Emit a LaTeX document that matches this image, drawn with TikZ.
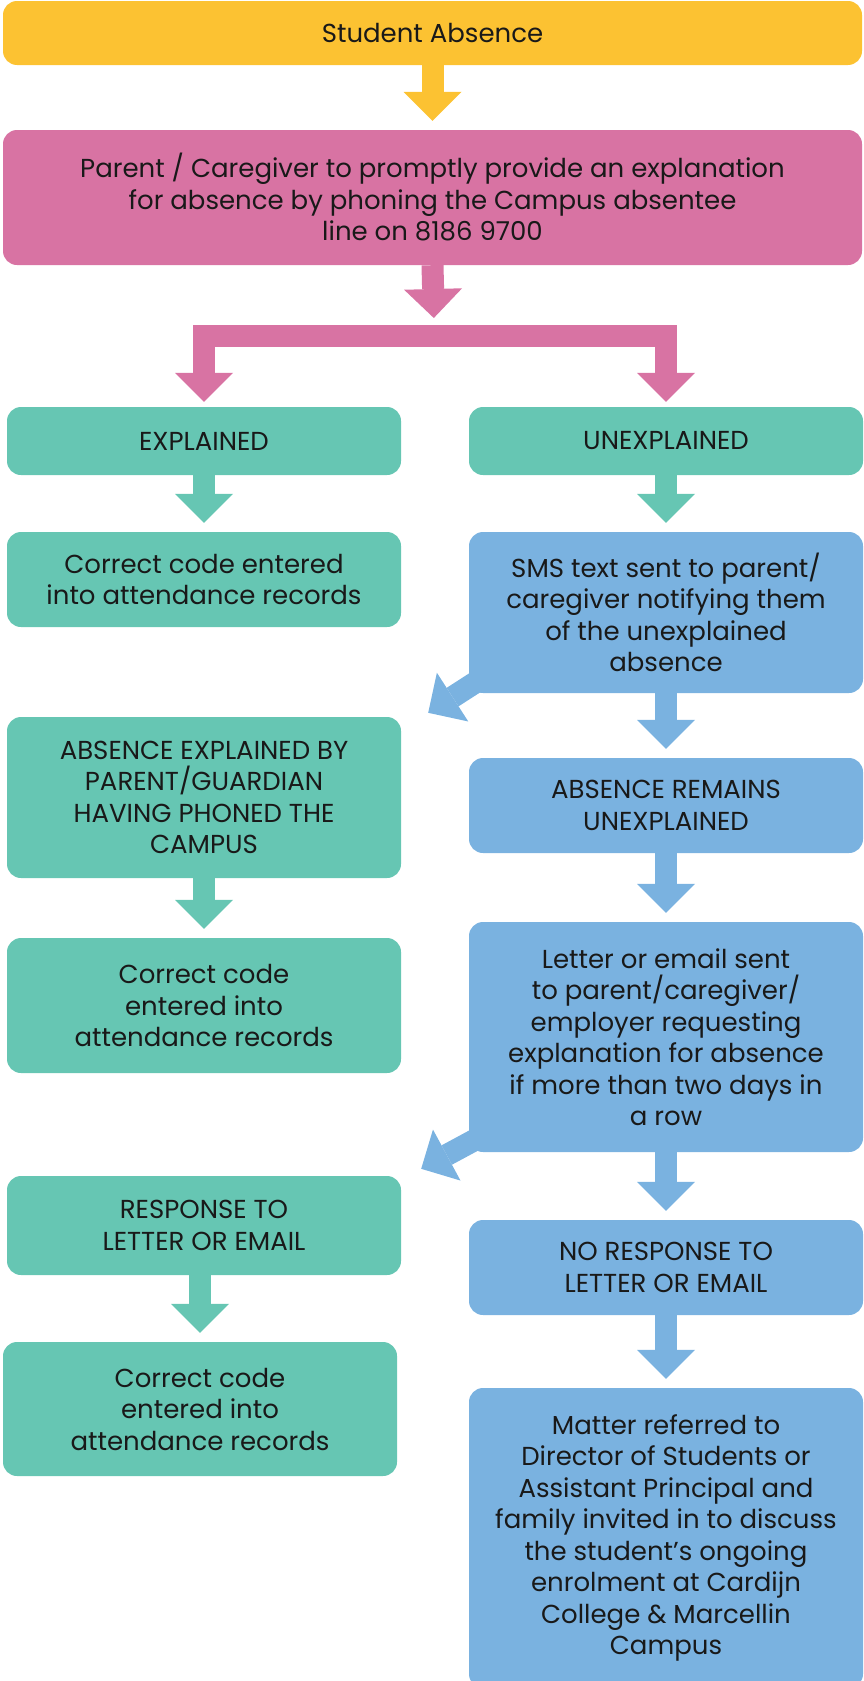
\documentclass[tikz,border=0pt]{standalone}
\usepackage{fontspec}
\setmainfont{Poppins}
\usetikzlibrary{arrows.meta, backgrounds, positioning}

\definecolor{absYellow}{RGB}{252,194,50}
\definecolor{absPink}{RGB}{216,115,163}
\definecolor{absTeal}{RGB}{102,198,179}
\definecolor{absBlue}{RGB}{122,178,224}

\tikzset{
    flowbox/.style={rounded corners=14pt, inner sep=0pt, align=center,
        text=black!90, font=\fontsize{26}{31.5}\selectfont},
    tip/.style={-{Triangle[width=58pt, length=29pt, line width=0pt]}},
    flow/.style={line width=22pt, tip, shorten >=9pt}
}

\begin{document}
\begin{tikzpicture}[x=1pt, y=-1pt]
    \def\leftX{204}
    \def\rightX{666}
    \def\colW{394pt}

    \useasboundingbox (0, 0) rectangle (864, 1681);

    % Draw top boxes
    \node[flowbox, fill=absYellow, minimum width=859pt, minimum height=64pt]
        (absence) at (432.5, 33) {Student Absence};
    \node[flowbox, fill=absPink, minimum width=859pt, minimum height=135pt]
        (parent) at (432.5, 197.5)
        {Parent / Caregiver to promptly provide an explanation\\
         for absence by phoning the Campus absentee\\
         line on 8186 9700};

    % Draw left column
    \node[flowbox, fill=absTeal, minimum width=\colW, minimum height=68pt]
        (explained) at (\leftX, 441) {EXPLAINED};
    \node[flowbox, fill=absTeal, minimum width=\colW, minimum height=95pt]
        (code1) at (\leftX, 579.5) {Correct code entered\\into attendance records};
    \node[flowbox, fill=absTeal, minimum width=\colW, minimum height=161pt]
        (phoned) at (\leftX, 797.5)
        {ABSENCE EXPLAINED BY\\PARENT/GUARDIAN\\HAVING PHONED THE\\CAMPUS};
    \node[flowbox, fill=absTeal, minimum width=\colW, minimum height=135pt]
        (code2) at (\leftX, 1005.5) {Correct code\\entered into\\attendance records};
    \node[flowbox, fill=absTeal, minimum width=\colW, minimum height=99pt]
        (response) at (\leftX, 1225.5) {RESPONSE TO\\LETTER OR EMAIL};
    \node[flowbox, fill=absTeal, minimum width=\colW, minimum height=134pt]
        (code3) at (200, 1409) {Correct code\\entered into\\attendance records};

    % Draw right column
    \node[flowbox, fill=absTeal, minimum width=\colW, minimum height=68pt]
        (unexplained) at (\rightX, 441) {UNEXPLAINED};
    \node[flowbox, fill=absBlue, minimum width=\colW, minimum height=161pt]
        (sms) at (\rightX, 612.5)
        {SMS text sent to parent/\\caregiver notifying them\\of the unexplained\\absence};
    \node[flowbox, fill=absBlue, minimum width=\colW, minimum height=95pt]
        (remains) at (\rightX, 805.5) {ABSENCE REMAINS\\UNEXPLAINED};
    \node[flowbox, fill=absBlue, minimum width=\colW, minimum height=230pt]
        (letter) at (\rightX, 1037)
        {Letter or email sent\\to parent/caregiver/\\employer requesting\\
         explanation for absence\\if more than two days in\\a row};
    \node[flowbox, fill=absBlue, minimum width=\colW, minimum height=95pt]
        (noresp) at (\rightX, 1267.5) {NO RESPONSE TO\\LETTER OR EMAIL};
    \node[flowbox, fill=absBlue, minimum width=\colW, minimum height=300pt]
        (matter) at (\rightX, 1538)
        {Matter referred to\\Director of Students or\\Assistant Principal and\\
         family invited in to discuss\\the student’s ongoing\\enrolment at Cardijn\\
         College \& Marcellin\\Campus};

    \coordinate (fork) at (434, 325);
    \coordinate (bar) at (434, 336);

    \begin{scope}[on background layer]
        % Draw straight arrows
        \foreach \a/\b/\c in {absence/parent/absYellow, explained/code1/absTeal,
            unexplained/sms/absTeal, sms/remains/absBlue, phoned/code2/absTeal,
            remains/letter/absBlue, letter/noresp/absBlue, noresp/matter/absBlue} {
            \draw[flow, color=\c] (\a.south) -- (\b.north);
        }
        \draw[flow, color=absTeal] (code3.north |- response.south) -- (code3.north);
        \draw[flow, color=absPink, shorten >=7pt] (parent.south) -- (fork);

        % Draw split arrow
        \draw[line width=22pt, color=absPink, line join=miter,
            {Triangle[width=58pt, length=29pt, line width=0pt]}-{Triangle[width=58pt, length=29pt, line width=0pt]},
            shorten <=5pt, shorten >=5pt]
            (explained.north) |- (bar) -| (unexplained.north);

        % Draw diagonal arrows
        \draw[flow, color=absBlue, shorten >=0pt]
            ([shift={(24,-22)}]sms.south west) -- ([shift={(27,-4)}]phoned.north east);
        \draw[flow, color=absBlue, shorten >=0pt]
            ([shift={(24,-22)}]letter.south west) -- ([shift={(20,-7)}]response.north east);
    \end{scope}
\end{tikzpicture}
\end{document}
